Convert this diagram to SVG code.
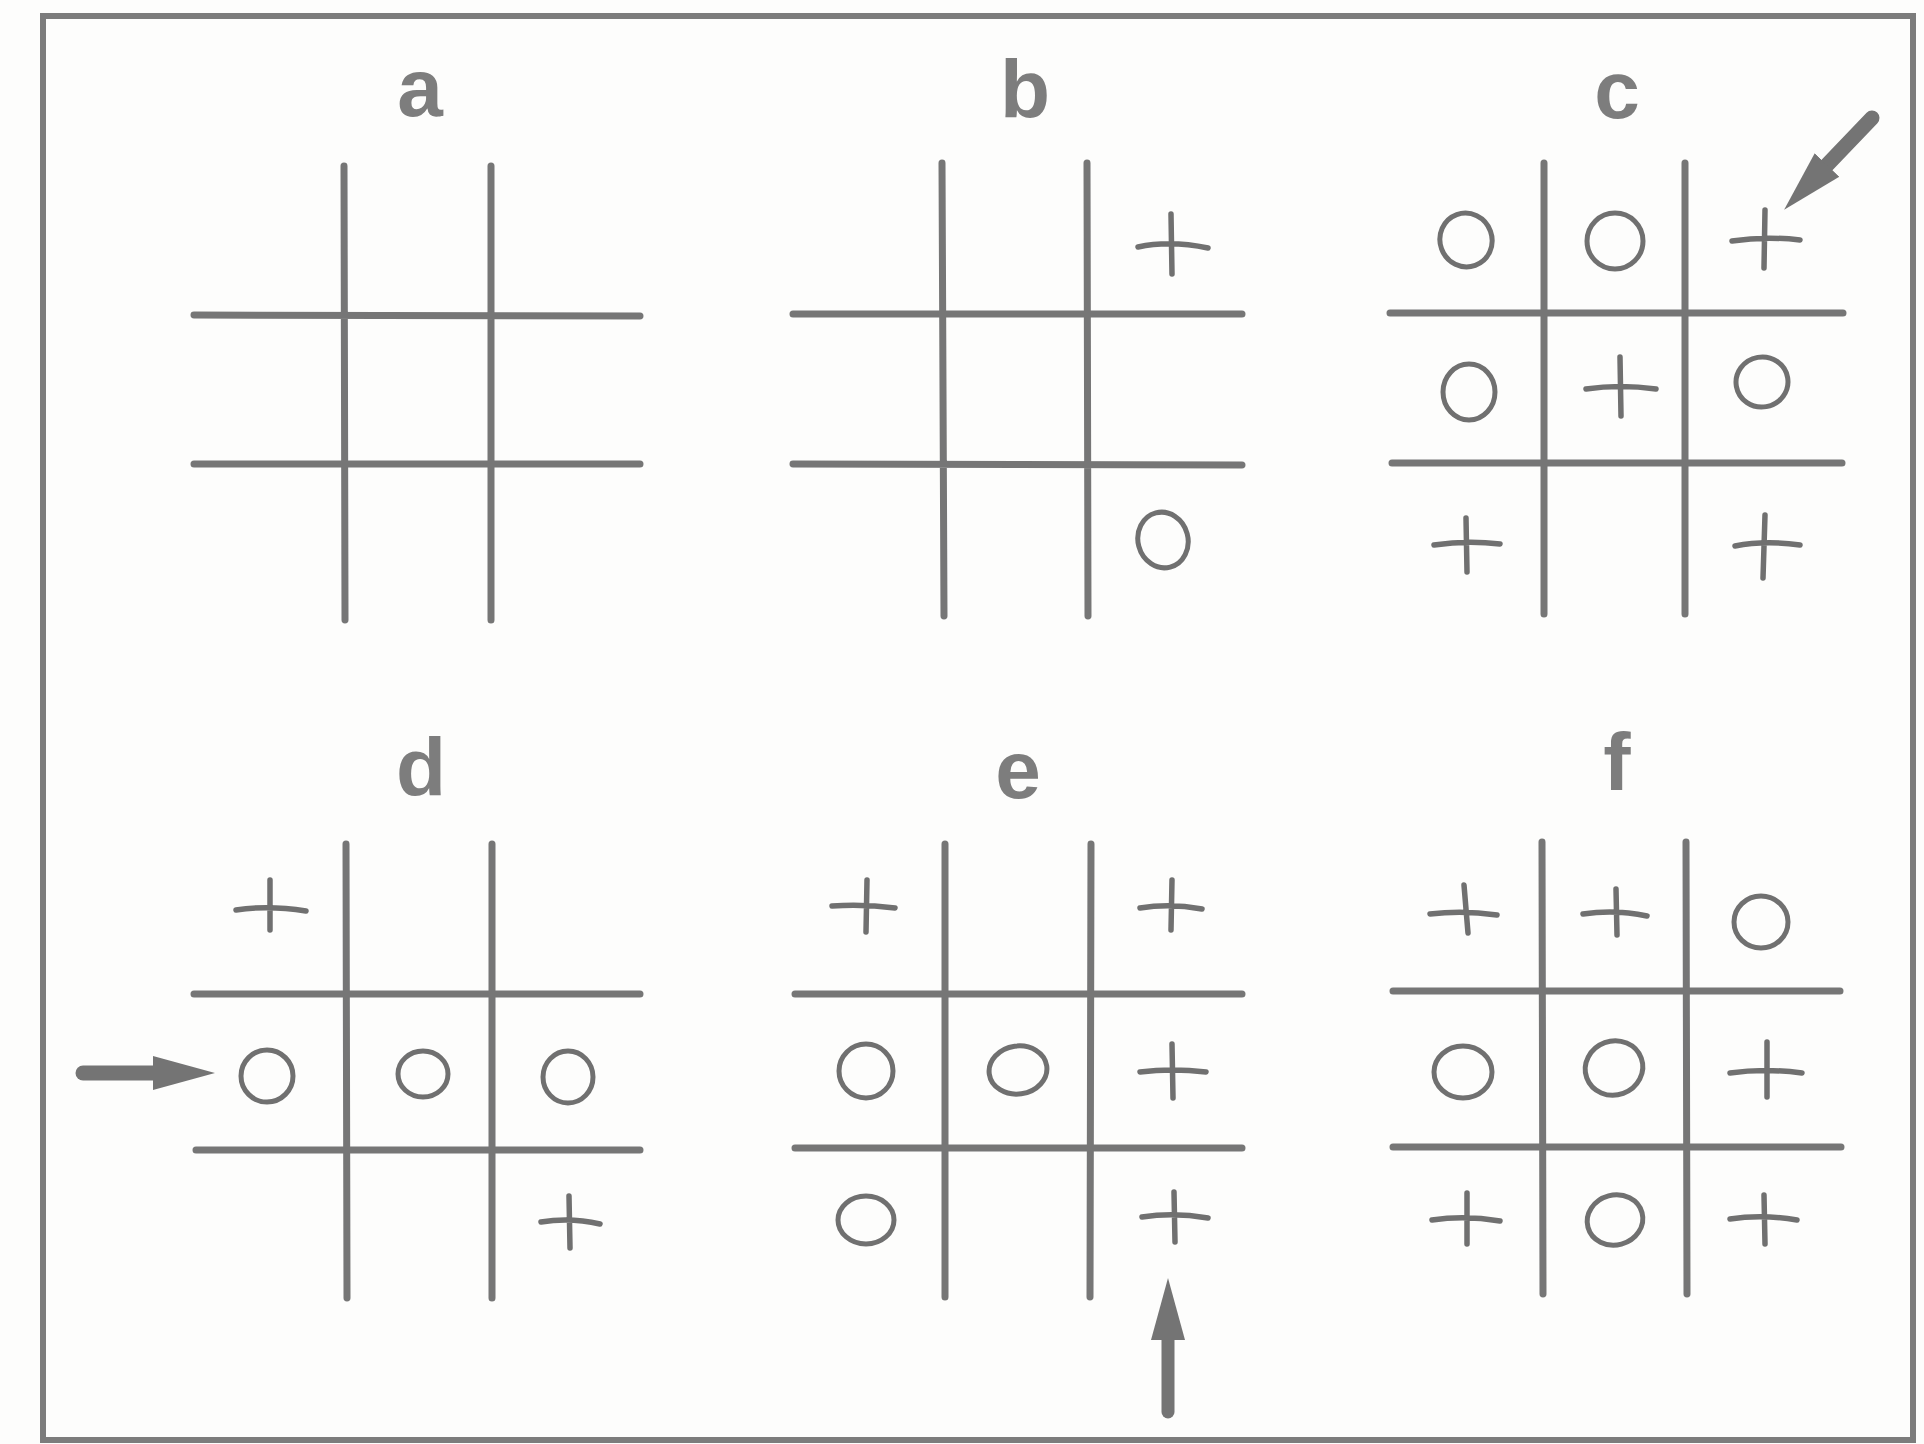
<svg xmlns="http://www.w3.org/2000/svg" width="1924" height="1444" viewBox="0 0 1924 1444">
<style>
.bg{fill:#fdfdfc}
.frame{fill:none;stroke:#7c7c7c;stroke-width:6}
.grid{stroke:#767676;stroke-width:7;stroke-linecap:round;fill:none}
.lbl{font-family:"Liberation Sans",Arial,sans-serif;font-weight:bold;font-size:82px;fill:#7d7d7d;text-anchor:middle}
.plus{fill:none;stroke:#707070;stroke-width:5.5;stroke-linecap:round}
.o{fill:none;stroke:#707070;stroke-width:5}
.arrow{stroke:#747474;fill:none}
</style>
<defs>
<marker id="head" markerUnits="userSpaceOnUse" viewBox="0 -18 62 36" markerWidth="62" markerHeight="36" refX="0" refY="0" orient="auto">
<path d="M0,-17 L62,0 L0,17 Z" fill="#747474"/>
</marker>
</defs>
<rect class="bg" x="0" y="0" width="1924" height="1444"/>
<rect class="frame" x="43" y="16" width="1870" height="1424"/>

<g id="panel-a">
<text class="lbl" x="420" y="116">a</text>
<path class="grid" d="M344,166 L345,620 M491,166 L491,620 M194,315 L640,316 M194,464 L640,464"/>
</g>

<g id="panel-b">
<text class="lbl" x="1025" y="117">b</text>
<path class="grid" d="M942,163 L944,616 M1087,163 L1088,616 M793,314 L1242,314 M793,464 L1242,465"/>
<path class="plus" d="M1138,247 Q1170,240 1208,248 M1171,214 L1172,274"/>
<ellipse class="o" cx="1163" cy="540" rx="25" ry="28" transform="rotate(-15 1163 540)"/>
</g>

<g id="panel-c">
<text class="lbl" x="1617" y="118">c</text>
<path class="grid" d="M1544,163 L1544,614 M1685,163 L1685,614 M1390,313 L1843,313 M1392,463 L1842,463"/>
<ellipse class="o" cx="1466" cy="240" rx="26" ry="27" transform="rotate(-20 1466 240)"/>
<ellipse class="o" cx="1615" cy="241" rx="28" ry="28"/>
<path class="plus" d="M1732,241 Q1765,236 1800,240 M1765,210 L1764,268"/>
<ellipse class="o" cx="1469" cy="392" rx="26" ry="28"/>
<path class="plus" d="M1586,389 Q1620,384 1656,389 M1620,357 L1621,416"/>
<ellipse class="o" cx="1762" cy="382" rx="26" ry="25" transform="rotate(-10 1762 382)"/>
<path class="plus" d="M1434,545 Q1467,540 1500,544 M1466,518 L1467,572"/>
<path class="plus" d="M1735,546 Q1765,540 1800,545 M1765,515 L1763,578"/>
</g>

<g id="panel-d">
<text class="lbl" x="421" y="795">d</text>
<path class="grid" d="M346,844 L347,1298 M492,844 L492,1298 M194,994 L640,994 M196,1150 L640,1150"/>
<path class="plus" d="M236,910 Q268,905 306,911 M270,880 L270,930"/>
<ellipse class="o" cx="267" cy="1076" rx="26" ry="26"/>
<ellipse class="o" cx="423" cy="1074" rx="25" ry="23"/>
<ellipse class="o" cx="568" cy="1077" rx="25" ry="26"/>
<path class="plus" d="M541,1222 Q570,1217 600,1224 M569,1196 L570,1248"/>
</g>

<g id="panel-e">
<text class="lbl" x="1018" y="798">e</text>
<path class="grid" d="M945,844 L945,1297 M1091,844 L1090,1297 M795,994 L1242,994 M795,1148 L1242,1148"/>
<path class="plus" d="M832,906 Q865,904 895,908 M867,880 L866,932"/>
<path class="plus" d="M1140,908 Q1170,903 1202,909 M1172,880 L1171,930"/>
<ellipse class="o" cx="866" cy="1071" rx="27" ry="27"/>
<ellipse class="o" cx="1018" cy="1070" rx="29" ry="24" transform="rotate(-8 1018 1070)"/>
<path class="plus" d="M1140,1072 Q1172,1068 1206,1072 M1172,1044 L1173,1098"/>
<ellipse class="o" cx="866" cy="1220" rx="28" ry="24"/>
<path class="plus" d="M1142,1217 Q1174,1212 1208,1218 M1174,1192 L1175,1242"/>
</g>

<g id="panel-f">
<text class="lbl" x="1617" y="790">f</text>
<path class="grid" d="M1542,842 L1543,1294 M1686,842 L1687,1294 M1393,991 L1840,991 M1393,1147 L1841,1147"/>
<path class="plus" d="M1430,914 Q1463,910 1497,915 M1464,885 L1468,933"/>
<path class="plus" d="M1583,914 Q1615,909 1647,916 M1616,889 L1617,935"/>
<ellipse class="o" cx="1761" cy="922" rx="27" ry="26"/>
<ellipse class="o" cx="1463" cy="1072" rx="29" ry="26"/>
<ellipse class="o" cx="1614" cy="1068" rx="29" ry="27" transform="rotate(-20 1614 1068)"/>
<path class="plus" d="M1730,1073 Q1765,1068 1802,1073 M1767,1042 L1767,1097"/>
<path class="plus" d="M1432,1220 Q1465,1215 1500,1221 M1467,1193 L1467,1244"/>
<ellipse class="o" cx="1615" cy="1220" rx="28" ry="25" transform="rotate(-15 1615 1220)"/>
<path class="plus" d="M1730,1219 Q1762,1214 1797,1220 M1764,1195 L1765,1244"/>
</g>

<g id="connectors">
<line class="arrow" x1="1872" y1="118" x2="1827" y2="165" stroke-width="15" stroke-linecap="round" marker-end="url(#head)"/>
<line class="arrow" x1="83" y1="1073" x2="153" y2="1073" stroke-width="15" stroke-linecap="round" marker-end="url(#head)"/>
<line class="arrow" x1="1168" y1="1412" x2="1168" y2="1340" stroke-width="13" stroke-linecap="round" marker-end="url(#head)"/>
</g>
</svg>
